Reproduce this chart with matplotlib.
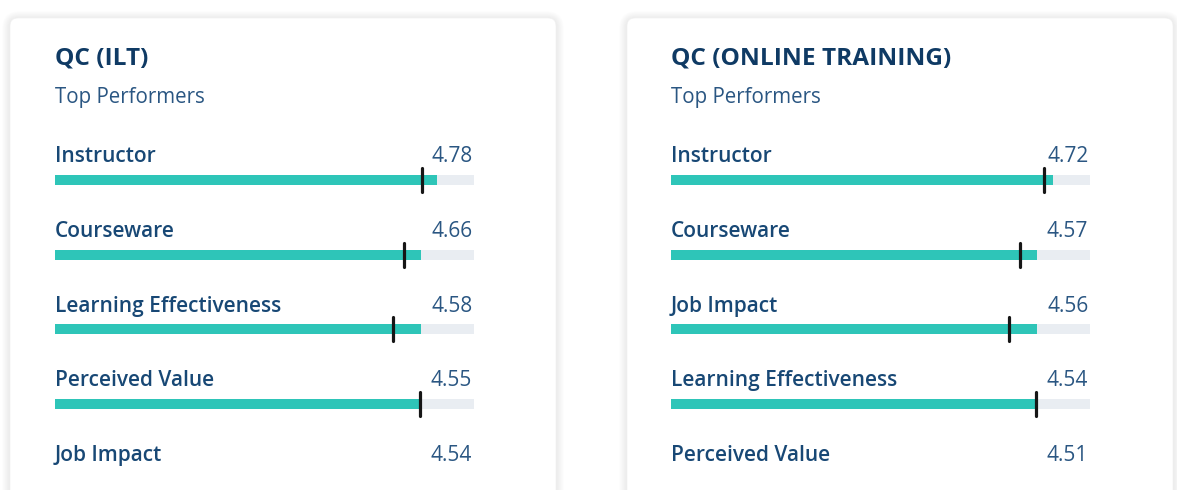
import matplotlib.pyplot as plt
from matplotlib.patches import FancyBboxPatch

# data
titles = ['QC (ILT)', 'QC (ONLINE TRAINING)']
subtitle = 'Top Performers'
ilt_labels = ['Instructor', 'Courseware', 'Learning Effectiveness', 'Perceived Value', 'Job Impact']
ilt_scores = [4.78, 4.66, 4.58, 4.55, 4.54]
ilt_bars = [4.56, 4.365, 4.365, 4.36]       # teal bar length (0-5 scale)
ilt_marks = [4.385, 4.165, 4.035, 4.355]    # black marker
onl_labels = ['Instructor', 'Courseware', 'Job Impact', 'Learning Effectiveness', 'Perceived Value']
onl_scores = [4.72, 4.57, 4.56, 4.54, 4.51]
onl_bars = [4.56, 4.365, 4.365, 4.36]
onl_marks = [4.45, 4.165, 4.035, 4.355]

W, H = 1177, 490
TEAL = '#2ec5b8'
TRACK = '#e9edf2'
TITLE_C = '#0f3a64'
LABEL_C = '#184875'
VALUE_C = '#2a5682'

plt.rcParams['font.family'] = ['Open Sans', 'DejaVu Sans']

fig = plt.figure(figsize=(W / 100, H / 100), dpi=100)
fig.patch.set_facecolor('white')

# background axes in pixel units for the cards
bg = fig.add_axes([0, 0, 1, 1])
bg.set_xlim(0, W)
bg.set_ylim(H, 0)
bg.axis('off')

cards = [(10, 556), (627, 1173)]
for x0, x1 in cards:
    for k in range(10, 0, -1):
        bg.add_patch(FancyBboxPatch((x0 - k * 0.8, 18 - k * 0.8 + 1), x1 - x0 + k * 1.6, 600,
                                    boxstyle='round,pad=0,rounding_size=%d' % (8 + k),
                                    fc='#000000', ec='none', alpha=0.007))
    bg.add_patch(FancyBboxPatch((x0, 18), x1 - x0, 600, boxstyle='round,pad=0,rounding_size=8',
                                fc='white', ec='#f1f1f1', lw=0.5))

panels = [(titles[0], ilt_labels, ilt_scores, ilt_bars, ilt_marks, 55),
          (titles[1], onl_labels, onl_scores, onl_bars, onl_marks, 671)]

for title, labels, scores, bars, marks, left in panels:
    fig.text(left / W, 1 - 58 / H, title, fontsize=17.6, fontweight='bold', color=TITLE_C,
             va='center', ha='left')
    fig.text(left / W, 1 - 97 / H, subtitle, fontsize=14.8, color=VALUE_C, va='center', ha='left')

    ax = fig.add_axes([left / W, 0, 419 / W, 1])
    ax.set_xlim(0, 5)
    # row i is centred at 180 + 74.67*i px from the top
    ax.set_ylim((490 - 180) / 74.67, -180 / 74.67)
    ax.axis('off')
    n = len(bars)
    rows = list(range(n))
    ax.barh(rows, [5] * n, height=0.135, color=TRACK, zorder=1)
    ax.barh(rows, bars, height=0.135, color=TEAL, zorder=2)
    ax.vlines(marks, [r - 0.16 for r in rows], [r + 0.16 for r in rows], color='#161616',
              lw=2.3, capstyle='round', zorder=3)
    for i, (lab, sc) in enumerate(zip(labels, scores)):
        ax.text(0, i - 0.31, lab, fontsize=15, fontweight='semibold', color=LABEL_C,
                va='center', ha='left')
        ax.text(4.98, i - 0.31, '%.2f' % sc, fontsize=15, color=VALUE_C, va='center', ha='right')

fig.savefig('out.png', dpi=100)
